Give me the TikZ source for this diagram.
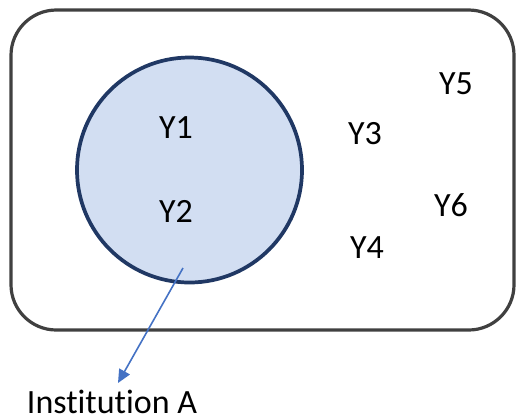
\documentclass[tikz,border=0pt]{standalone}
\usepackage{fontspec}
\setmainfont[Ligatures=CommonOff]{Carlito}
\usetikzlibrary{arrows.meta}

\tikzset{every picture/.style={line width=0.75pt}}
\tikzset{ylabel/.style={anchor=center,inner sep=0.75pt,font=\fontsize{25.5}{30}\selectfont}}

\begin{document}
\begin{tikzpicture}[x=0.75pt,y=0.75pt,yscale=-1,xscale=1]
%set diagram: width 516, height 419
\useasboundingbox (0,0) rectangle (516,419);

%Shape: Rounded Rectangle [id:universe]
\draw [color={rgb, 255:red, 64; green, 64; blue, 64 }, line width=2.4, rounded corners=34] (11,10) rectangle (514,330);
%Shape: Circle [id:instA]
\draw [color={rgb, 255:red, 32; green, 56; blue, 100 }, fill={rgb, 255:red, 210; green, 222; blue, 242 }, line width=2.8] (189.5,170) circle [radius=112.5];

% Text Node
\node (y1) at (176,128) [ylabel] {Y1};
% Text Node
\node (y2) at (176,211) [ylabel] {Y2};
% Text Node
\node (y3) at (365,134) [ylabel] {Y3};
% Text Node
\node (y4) at (367,248) [ylabel] {Y4};
% Text Node
\node (y5) at (456,84) [ylabel] {Y5};
% Text Node
\node (y6) at (451,205) [ylabel] {Y6};
% Text Node
\node (inst) at (112,413) [ylabel, anchor=base] {Institution A};

%Straight Lines [id:arrowA]
\coordinate (src) at (183,268);
\coordinate (tip) at (118,383);
\draw [color={rgb, 255:red, 68; green, 114; blue, 196 }, line width=1.2, -{Triangle[length=10pt,width=9pt]}] (src) -- (tip);

\end{tikzpicture}
\end{document}
